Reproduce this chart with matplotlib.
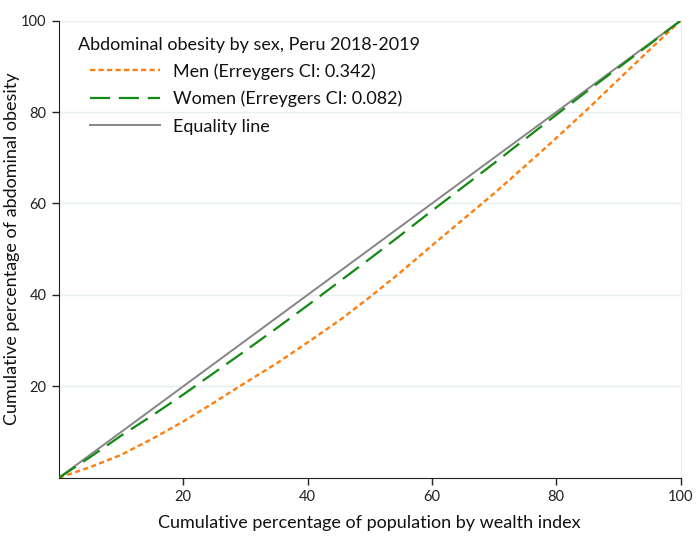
import matplotlib
matplotlib.use("Agg")
import matplotlib.pyplot as plt

plt.rcParams['font.family'] = ['Lato', 'DejaVu Sans']

# Data
pop_pct = [0, 5, 10, 15, 20, 25, 30, 35, 40, 45, 50, 55, 60, 65, 70, 75, 80, 85, 90, 95, 100]
men = [0, 2.3, 5.0, 8.5, 12.3, 16.5, 20.8, 25.0, 29.6, 34.3, 39.5, 45.0, 50.8, 56.5, 62.2, 68.2, 74.3, 80.6, 87.1, 93.6, 100]
women = [0, 4.5, 9.2, 13.6, 18.2, 23.0, 27.8, 32.7, 37.7, 42.8, 47.9, 53.1, 58.4, 63.6, 68.8, 74.1, 79.4, 84.6, 89.7, 94.8, 100]
equality = [0, 100]
equality_x = [0, 100]
ticks = [20, 40, 60, 80, 100]

legend_title = "Abdominal obesity by sex, Peru 2018-2019"
men_label = "Men (Erreygers CI: 0.342)"
women_label = "Women (Erreygers CI: 0.082)"
eq_label = "Equality line"
xlabel = "Cumulative percentage of population by wealth index"
ylabel = "Cumulative percentage of abdominal obesity"

W, H = 700, 560
fig = plt.figure(figsize=(7, 5.6), dpi=100)
ax = fig.add_axes([59 / W, 1 - 477.7 / H, (680.5 - 59) / W, (477.7 - 20.7) / H])

for t in ticks:
    ax.axhline(t, color="#e6eff1", lw=1.0, zorder=0)

l1, = ax.plot(pop_pct, men, color="#ff7f0e", lw=1.7, label=men_label, zorder=3)
l1.set_dashes([2.2, 1.4])
l2, = ax.plot(pop_pct, women, color="#138a13", lw=1.6, label=women_label, zorder=3)
l2.set_dashes([9.0, 4.0])
l3, = ax.plot(equality_x, equality, color="#858585", lw=1.4, label=eq_label, zorder=2)

ax.set_xlim(0, 100)
ax.set_ylim(0, 100)
ax.set_xticks(ticks)
ax.set_yticks(ticks)
ax.tick_params(axis="both", direction="out", length=5, width=1, labelsize=10.5, colors="#222222", pad=4)
ax.spines["top"].set_visible(False)
ax.spines["right"].set_color("#e6eff1")
ax.spines["left"].set_color("#222222")
ax.spines["bottom"].set_color("#222222")

ax.set_xlabel(xlabel, fontsize=13, color="#111111", labelpad=8)
fig.text(12 / W, 1 - 249 / H, ylabel, fontsize=13, color="#111111",
         rotation=90, ha="center", va="center")

fig.text(78 / W, 1 - 45 / H, legend_title, fontsize=13, color="#111111",
         ha="left", va="center")

leg = fig.legend(handles=[l1, l2, l3], loc="upper left",
                 bbox_to_anchor=(90 / W, 1 - 63 / H), bbox_transform=fig.transFigure,
                 frameon=False, fontsize=13, handlelength=3.9,
                 handletextpad=0.7, labelspacing=0.62, borderaxespad=0, borderpad=0)
for t in leg.get_texts():
    t.set_color("#111111")

fig.savefig("out.png", dpi=100, facecolor="white")
